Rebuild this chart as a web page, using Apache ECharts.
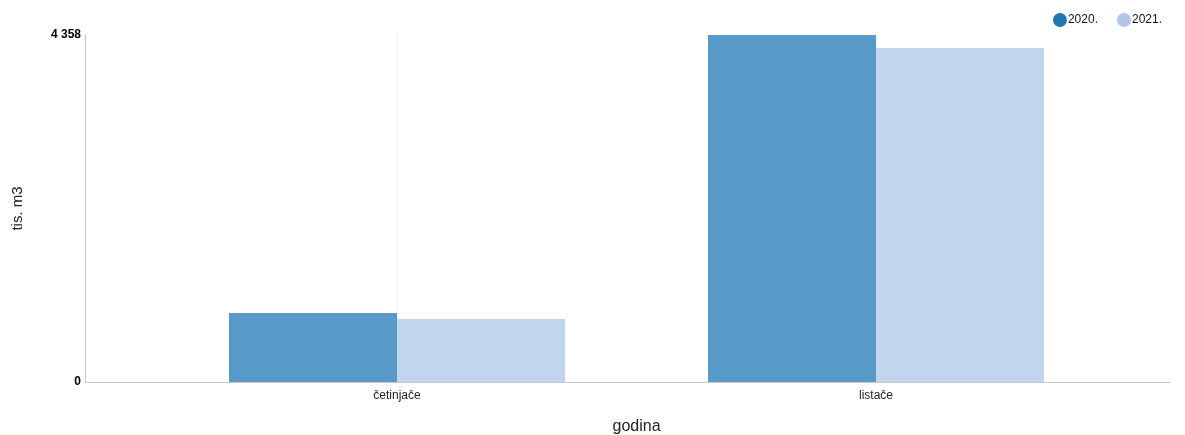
<!DOCTYPE html>
<html><head><meta charset="utf-8">
<script src="https://cdn.jsdelivr.net/npm/echarts@6/dist/echarts.min.js"></script>
<style>html,body{margin:0;padding:0;background:#fff}#c{width:1185px;height:435px}</style>
</head><body><div id="c"></div>
<script>
const categories = ['četinjače', 'listače'];
const seriesNames = ['2020.', '2021.'];
const values2020 = [867, 4358];
const values2021 = [791, 4195];
const yTicks = [0, 4358];

const chart = echarts.init(document.getElementById('c'));
chart.setOption({
  animation: false,
  textStyle: {fontFamily: 'Liberation Sans, Arial, sans-serif'},
  legend: {
    data: seriesNames, right: 18, top: 8, icon: 'circle', itemWidth: 14, itemHeight: 14, itemGap: 19,
    textStyle: {fontSize: 12, color: '#111', padding: [0,0,0,-4]},
    itemStyle: {opacity: 1}
  },
  grid: [
    {left: 157.5, right: 69.5, top: 35, bottom: 53, containLabel: false, outerBoundsMode: 'none'},
    {left: 85, right: 15, top: 35, bottom: 53, containLabel: false, outerBoundsMode: 'none'}
  ],
  xAxis: [
    {type: 'category', gridIndex: 0, data: categories,
     axisLine: {show: false}, axisTick: {show: false},
     axisLabel: {fontSize: 12, color: '#222', margin: 8},
     name: 'godina', nameLocation: 'middle', nameGap: 37,
     nameTextStyle: {fontSize: 16, color: '#222'}},
    {type: 'value', gridIndex: 1, min: 0, max: 1,
     axisLine: {show: true, lineStyle: {color: '#c8c8c8'}}, axisTick: {show: false},
     axisLabel: {show: false}, splitLine: {show: false}}
  ],
  yAxis: [
    {type: 'value', gridIndex: 0, min: yTicks[0], max: yTicks[1], interval: yTicks[1] - yTicks[0],
     offset: 72.5,
     axisLine: {show: true, lineStyle: {color: '#c8c8c8'}}, axisTick: {show: false},
     axisLabel: {fontSize: 12, fontWeight: 'bold', color: '#000', margin: 4,
                 formatter: v => String(v).replace(/\B(?=(\d{3})+(?!\d))/g, ' ')},
     splitLine: {show: false},
     name: 'tis. m3', nameLocation: 'middle', nameGap: 60, nameRotate: 90,
     nameTextStyle: {fontSize: 15, color: '#222'}},
    {type: 'value', gridIndex: 1, show: false}
  ],
  series: [
    {name: 'grid', type: 'line', data: [null, null], z: 0, silent: true, showSymbol: false,
     markLine: {silent: true, symbol: 'none', label: {show: false}, z: 0,
       lineStyle: {color: '#f2f2f2', type: 'solid', width: 1},
       data: [{xAxis: categories[0]}, {xAxis: categories[1]}]}},
    {name: seriesNames[0], type: 'bar', data: values2020, barWidth: 168, barGap: '0%',
     itemStyle: {color: '#1f77b4', opacity: 0.75}, z: 3},
    {name: seriesNames[1], type: 'bar', data: values2021, barWidth: 168, barGap: '0%',
     itemStyle: {color: '#aec7e8', opacity: 0.75}, z: 3}
  ]
});
</script></body></html>
